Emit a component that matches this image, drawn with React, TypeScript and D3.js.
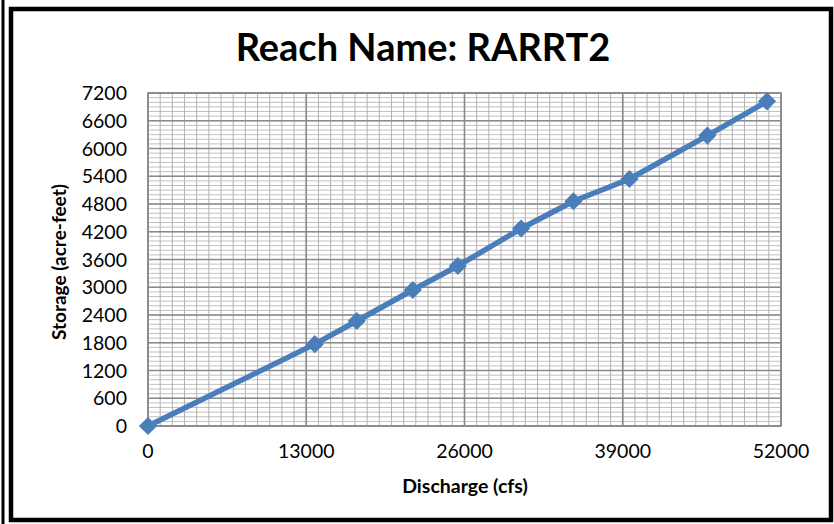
import * as d3 from "d3";

// values
const discharge = [0, 13700, 17150, 21750, 25450, 30650, 34950, 39550, 45950, 50850];
const storage = [0, 1770, 2270, 2940, 3460, 4270, 4860, 5340, 6280, 7020];
const xTicks = [0, 13000, 26000, 39000, 52000];
const yTicks = [0, 600, 1200, 1800, 2400, 3000, 3600, 4200, 4800, 5400, 6000, 6600, 7200];
const title = "Reach Name: RARRT2";
const xTitle = "Discharge (cfs)";
const yTitle = "Storage (acre-feet)";

const font = "Lato, 'Open Sans', sans-serif";

export default function App() {
  const width = 834;
  const height = 524;
  const plot = { left: 148, right: 781, top: 93, bottom: 426 };

  const x = d3.scaleLinear().domain([0, 52000]).range([plot.left, plot.right]);
  const y = d3.scaleLinear().domain([0, 7200]).range([plot.bottom, plot.top]);

  const xMinor = d3.range(0, 52001, 1000);
  const yMinor = d3.range(0, 7201, 100);

  const points = discharge.map((d, i) => [d, storage[i]] as [number, number]);
  const line = d3
    .line<[number, number]>()
    .x((d) => x(d[0]))
    .y((d) => y(d[1]));
  const diamond = d3.symbol(d3.symbolDiamond2, 210)();

  return (
    <svg
      width={width}
      height={height}
      viewBox={`0 0 ${width} ${height}`}
      style={{ position: "absolute", left: 0, top: 0, background: "#fff" }}
    >
      <rect x="0" y="0" width={width} height={height} fill="#fff" />
      <line x1="3" x2="3" y1="0" y2={height} stroke="#000" strokeWidth="3" />
      <rect x="11" y="9" width="820" height="511" fill="#fff" stroke="#000" strokeWidth="4.5" />

      <text
        x={423}
        y={61}
        textAnchor="middle"
        fontFamily={font}
        fontWeight="700"
        fontSize="38"
        fill="#000"
      >
        {title}
      </text>

      <g>
        {yMinor.map((v) => (
          <line key={`ym${v}`} x1={plot.left} x2={plot.right} y1={y(v)} y2={y(v)} stroke="#c0c0c0" strokeWidth="1" />
        ))}
        {xMinor.map((v) => (
          <line key={`xm${v}`} x1={x(v)} x2={x(v)} y1={plot.top} y2={plot.bottom} stroke="#b0b0b0" strokeWidth="1" />
        ))}
        {yTicks.map((v) => (
          <line key={`yM${v}`} x1={plot.left} x2={plot.right} y1={y(v)} y2={y(v)} stroke="#8a8a8a" strokeWidth="1.6" />
        ))}
        {xTicks.map((v) => (
          <line key={`xM${v}`} x1={x(v)} x2={x(v)} y1={plot.top} y2={plot.bottom} stroke="#8a8a8a" strokeWidth="1.6" />
        ))}
        <rect
          x={plot.left}
          y={plot.top}
          width={plot.right - plot.left}
          height={plot.bottom - plot.top}
          fill="none"
          stroke="#8a8a8a"
          strokeWidth="1.6"
        />
      </g>

      <path d={line(points) ?? ""} fill="none" stroke="#4a7ebb" strokeWidth="5.5" strokeLinejoin="round" />
      {points.map((p) => (
        <path key={p[0]} d={diamond ?? ""} transform={`translate(${x(p[0])},${y(p[1])})`} fill="#4a7ebb" />
      ))}

      {yTicks.map((v) => (
        <text
          key={`yl${v}`}
          x={127}
          y={y(v)}
          dy="0.36em"
          textAnchor="end"
          fontFamily={font}
          fontSize="19.5"
          fill="#000"
        >
          {v}
        </text>
      ))}
      {xTicks.map((v) => (
        <text
          key={`xl${v}`}
          x={x(v)}
          y={458}
          textAnchor="middle"
          fontFamily={font}
          fontSize="19.5"
          fill="#000"
        >
          {v}
        </text>
      ))}

      <text
        x={465}
        y={493}
        textAnchor="middle"
        fontFamily={font}
        fontWeight="700"
        fontSize="19.5"
        fill="#000"
      >
        {xTitle}
      </text>
      <text
        transform={`translate(66,${262}) rotate(-90)`}
        textAnchor="middle"
        fontFamily={font}
        fontWeight="700"
        fontSize="19"
        fill="#000"
      >
        {yTitle}
      </text>
    </svg>
  );
}
